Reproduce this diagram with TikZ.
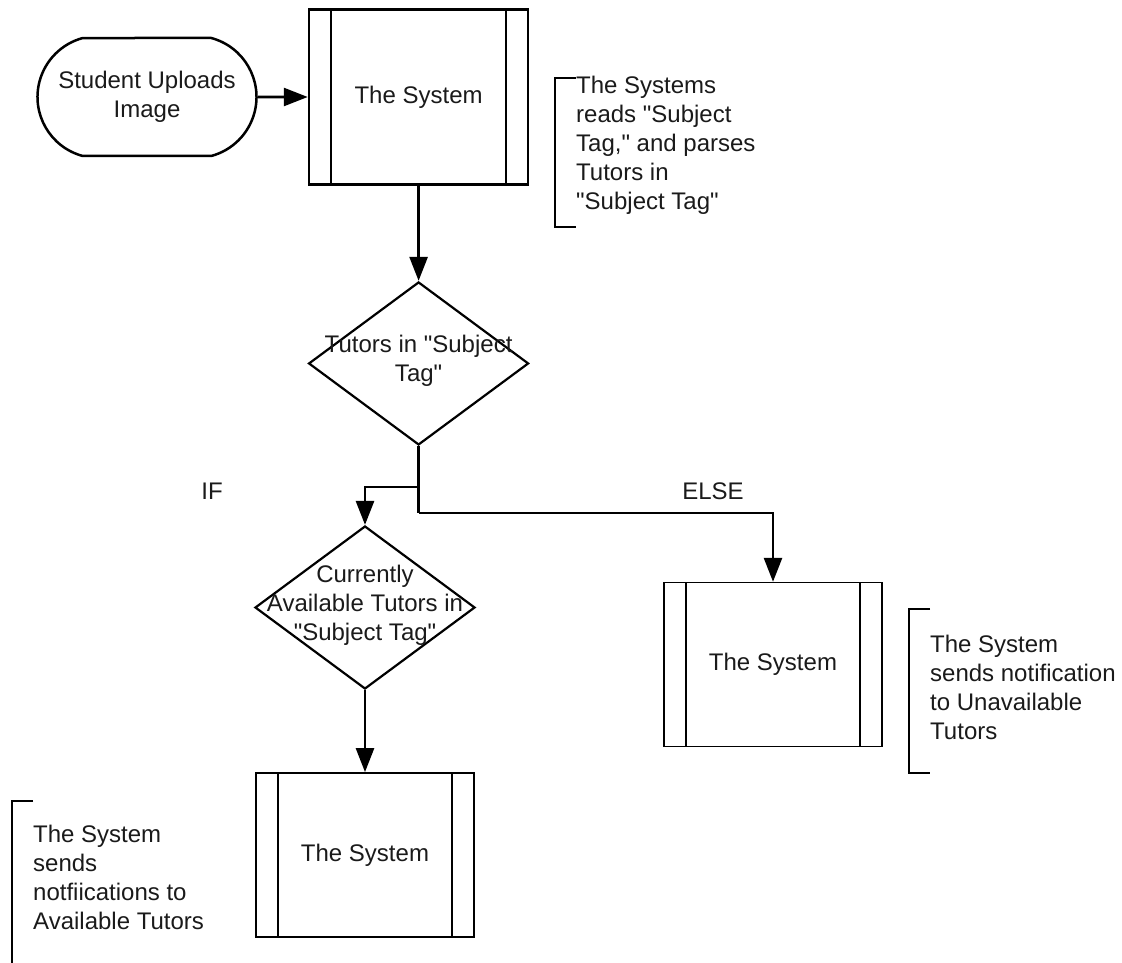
\documentclass[tikz,border=0pt]{standalone}
\usepackage{fontspec}
\setmainfont{Liberation Sans}[Ligatures=TeXOff]
\usepackage{xcolor}
\definecolor{ink}{RGB}{26,26,26}
\usetikzlibrary{positioning,arrows.meta,shapes.geometric,shapes.misc}

\begin{document}
\begin{tikzpicture}[
  x=1pt, y=-1pt,
  font=\fontsize{24}{29}\selectfont, text=ink,
  start/.style={draw, rounded rectangle, rounded rectangle arc length=150, line width=2.5pt,
    minimum width=219pt, minimum height=118pt, align=center, inner sep=0pt},
  subproc/.style={draw, rectangle, inner sep=0pt, path picture={
      \draw ([xshift=22pt]path picture bounding box.north west) -- ([xshift=22pt]path picture bounding box.south west);
      \draw ([xshift=-22pt]path picture bounding box.north east) -- ([xshift=-22pt]path picture bounding box.south east);}},
  bigproc/.style={subproc, line width=2.7pt, minimum width=219pt, minimum height=175pt},
  smallproc/.style={subproc, line width=1.4pt, minimum width=218pt, minimum height=164pt},
  decision/.style={draw, diamond, line width=2.2pt, minimum width=220pt, minimum height=163pt, inner sep=0pt},
  dtext/.style={align=center, inner sep=0pt},
  note/.style={align=left, inner sep=0pt, anchor=north west},
  brk/.style={line width=2.7pt},
  arr/.style={-{Triangle[length=24pt,width=18pt]}, line width=2.7pt},
  lbl/.style={inner sep=0pt},
  node distance=50pt]
\useasboundingbox (0,0) rectangle (1122,963);
% main flow
\node[start] (upload) at (147,97) {Student Uploads\\Image};
\node[bigproc, right=50pt of upload] (sys) {The System};
\node[decision, below=95pt of sys] (tag) {};
\node[dtext] (tagtxt) at ([yshift=3pt]tag.center) {Tutors in "Subject\\Tag"};
\node[decision] (avail) at (365,607.5) {};
\node[dtext] (availtxt) at ([yshift=2pt]avail.center) {Currently\\Available Tutors in\\"Subject Tag"};
\node[smallproc, below=82pt of avail] (sysA) {The System};
\node[smallproc] (sysU) at (773,664.5) {The System};
% branch labels
\node[lbl] (iflbl) at (212,491) {IF};
\node[lbl] (elselbl) at (713,491) {ELSE};
% notes
\node[note] (note1) at (576,76) {The Systems\\reads "Subject\\Tag," and parses\\Tutors in\\"Subject Tag"};
\node[note] (note2) at (930,634.5) {The System\\sends notification\\to Unavailable\\Tutors};
\node[note] (note3) at (33,824.5) {The System\\sends\\notfiications to\\Available Tutors};
\draw[brk] (576,78) -| (555,227) -- (576,227);
\draw[brk] (930,609) -| (909,773) -- (930,773);
\draw[brk] (33,801) -| (12,963);
% connectors
\coordinate (ifk) at (tag.south |- 0,487);
\coordinate (elk) at (tag.south |- 0,513);
\draw[arr] (upload) -- (sys);
\draw[arr] (sys) -- (tag);
\draw[line width=2.7pt] (tag.south) -- (elk);
\draw[arr] (elk) -| (sysU.north);
\draw[arr] (ifk) -| (avail.north);
\draw[arr] (avail) -- (sysA);
\end{tikzpicture}
\end{document}
